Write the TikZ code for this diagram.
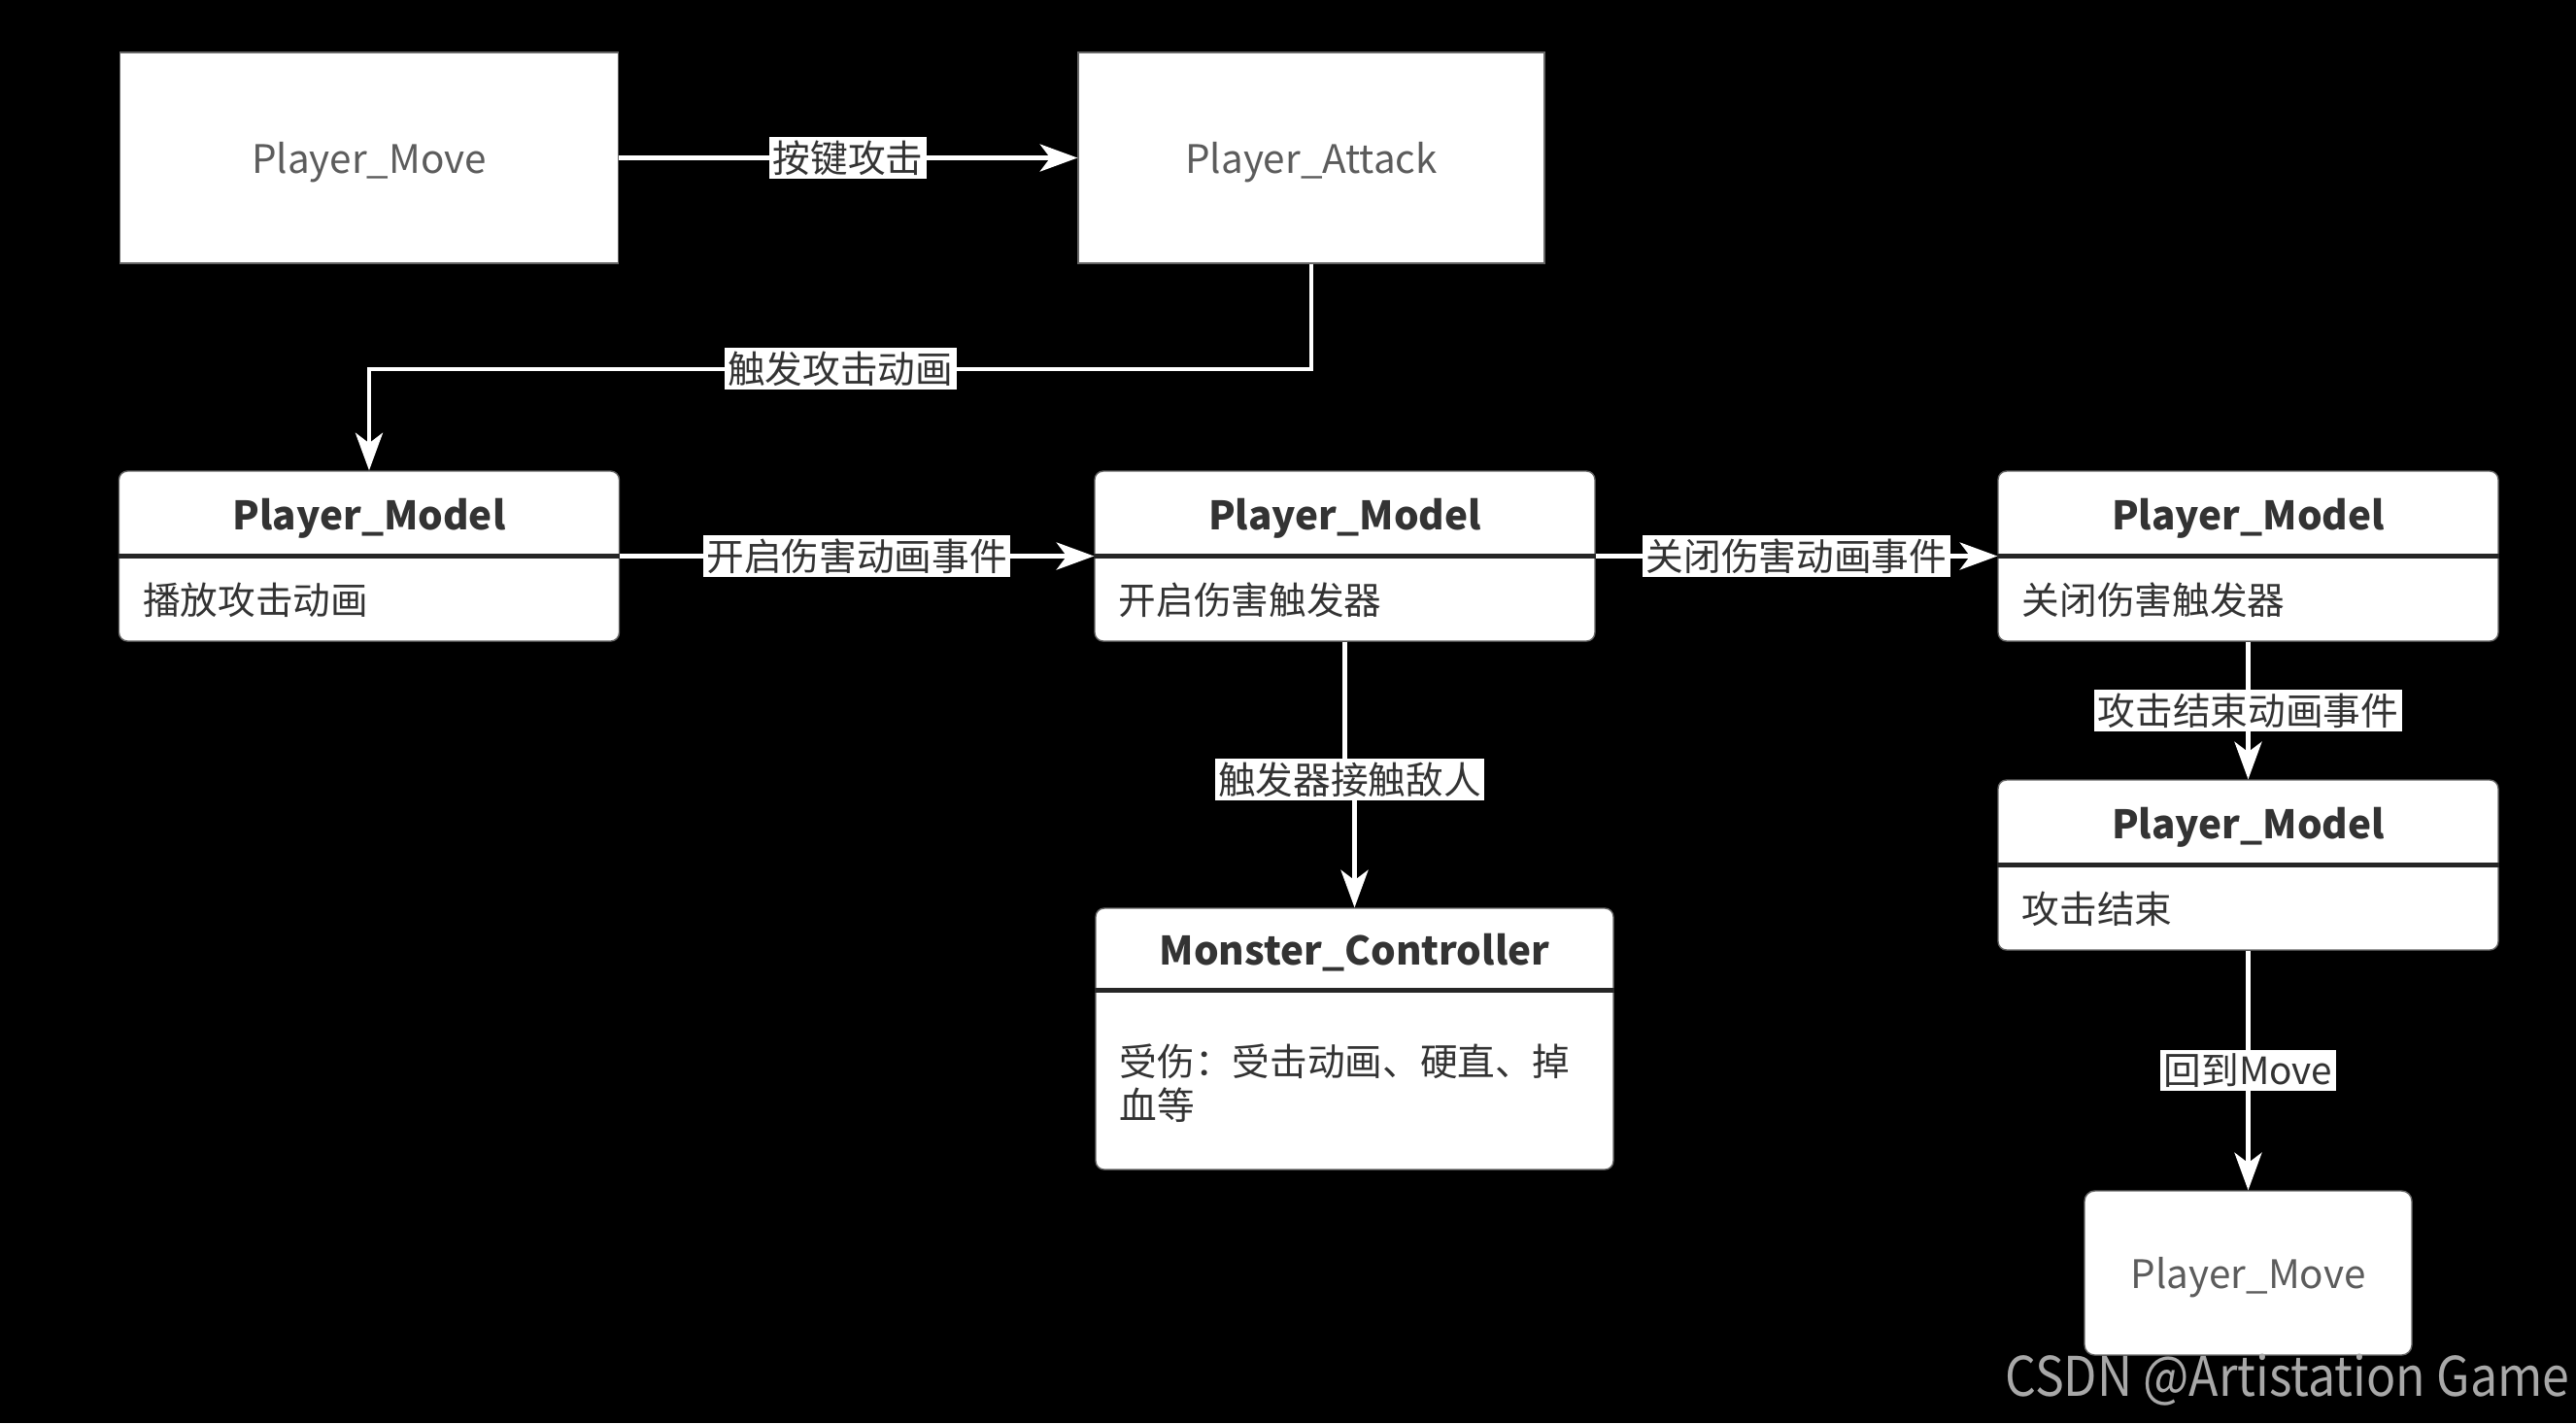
\documentclass[tikz,border=0pt]{standalone}
\usepackage{fontspec}
\setmainfont{Noto Sans CJK SC}
\usetikzlibrary{arrows.meta,positioning}
\definecolor{inkgray}{HTML}{333333}
\definecolor{markgray}{HTML}{A8A8A8}

\begin{document}
\begin{tikzpicture}
[
	conn/.style={draw=white,line width=1.2pt,-{Stealth[length=11pt,width=8pt,inset=3pt]}},
	lbl/.style={fill=white,text=inkgray,inner sep=1pt,font=\fontsize{11}{13}\selectfont},
	plainbox/.style={rectangle,fill=white,draw=black!60,text=inkgray!80,text depth=0pt,font=\fontsize{11.5}{14}\selectfont},
	umlbox/.style={rectangle,fill=white,draw=black!60,rounded corners=2.5pt,minimum width=5.15cm,minimum height=1.75cm},
	umltitle/.style={text=inkgray,text depth=0pt,font=\bfseries\fontsize{11.5}{14}\selectfont},
	umlbody/.style={anchor=west,text=inkgray,align=left,font=\fontsize{11}{12.8}\selectfont},
	divider/.style={draw=black!85,line width=1.3pt},
]

	% frame
	\fill[black] (0,0) rectangle (26.52,-14.65);
	\useasboundingbox (0,0) rectangle (26.52,-14.65);

	% top row
	\node[plainbox,minimum width=5.13cm,minimum height=2.17cm] (move) at (3.80,-1.625) {Player\_Move};
	\node[plainbox,minimum width=4.80cm,minimum height=2.17cm] (attack) at (13.50,-1.625) {Player\_Attack};

	% model boxes
	\foreach \n/\x/\y/\txt in {modelA/3.80/-5.725/播放攻击动画, modelB/13.845/-5.725/开启伤害触发器, modelC/23.145/-5.725/关闭伤害触发器, modelD/23.145/-8.905/攻击结束}
	{
		\node[umlbox] (\n) at (\x,\y) {};
		\node[umltitle] (\n-t) at ([yshift=-0.45cm]\n.north) {Player\_Model};
		\draw[divider] ([yshift=-0.88cm]\n.north west) -- ([yshift=-0.88cm]\n.north east);
		\node[umlbody] (\n-b) at ([xshift=0.13cm,yshift=-0.45cm]\n.west) {\txt};
	}

	\node[umlbox,minimum width=5.33cm,minimum height=2.69cm] (monster) at (13.945,-10.695) {};
	\node[umltitle] (monster-t) at ([yshift=-0.435cm]monster.north) {Monster\_Controller};
	\draw[divider] ([yshift=-0.85cm]monster.north west) -- ([yshift=-0.85cm]monster.north east);
	\node[umlbody] (monster-b) at ([xshift=0.13cm,yshift=-0.46cm]monster.west) {受伤：受击动画、硬直、掉\\血等};

	\node[plainbox,rounded corners=3pt,minimum width=3.37cm,minimum height=1.69cm] (moveback) at (23.145,-13.105) {Player\_Move};

	% connectors
	\draw[conn] (move) -- node[lbl] (keyLbl) {按键攻击} (attack);
	\draw[conn] (attack.south) -- ++(0,-1.08) -| node[lbl,pos=0.25] (trigLbl) {触发攻击动画} (modelA.north);
	\draw[conn] (modelA) -- node[lbl] (openLbl) {开启伤害动画事件} (modelB);
	\draw[conn] (modelB) -- node[lbl] (closeLbl) {关闭伤害动画事件} (modelC);
	\draw[conn] (modelB.south) -- ++(0,-1.42) -| node[lbl,pos=0.25] (hitLbl) {触发器接触敌人} (monster.north);
	\draw[conn] (modelC) -- node[lbl] (endLbl) {攻击结束动画事件} (modelD);
	\draw[conn] (modelD) -- node[lbl] (backLbl) {回到Move} (moveback);

	% watermark
	\node[anchor=base east,inner sep=0pt,text=markgray,font=\fontsize{16}{18}\selectfont] (mark) at (26.46,-14.37) {\scalebox{0.89}[1]{CSDN @Artistation Game}};

\end{tikzpicture}
\end{document}
